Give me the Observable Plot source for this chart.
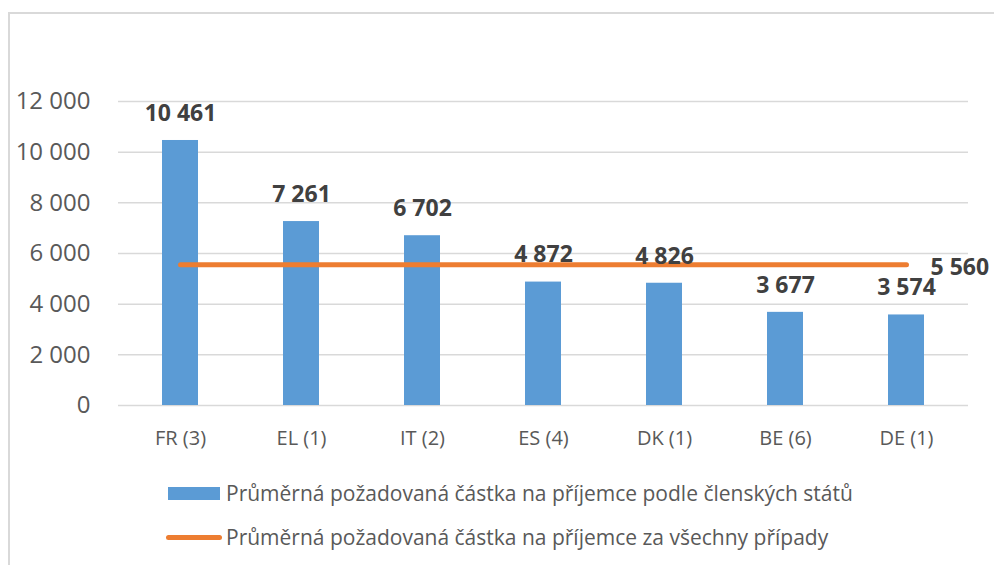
<!DOCTYPE html>
<html>
<head>
<meta charset="utf-8">
<script src="https://cdn.jsdelivr.net/npm/d3@7"></script>
<script src="https://cdn.jsdelivr.net/npm/@observablehq/plot@0.6"></script>
<style>
  html, body { margin: 0; padding: 0; background: #fff; overflow: hidden; }
  body { width: 994px; height: 565px; position: relative; font-family: "Open Sans", sans-serif; }
  #frame { position: absolute; left: 8px; top: 12px; width: 1000px; height: 600px;
           border-left: 2px solid #d9d9d9; border-top: 2px solid #d9d9d9; box-sizing: border-box; }
  #chart { position: absolute; left: 0; top: 0; }
  .leg { position: absolute; display: flex; align-items: center; color: #595959; font-size: 21px; line-height: 21px; white-space: nowrap; }
  .sw-bar { width: 52px; height: 13px; background: #5b9bd5; margin-right: 6px; }
  .sw-line { width: 56px; height: 5px; border-radius: 3px; background: #ed7d31; margin-right: 4px; }
</style>
</head>
<body>
<div id="frame"></div>
<div id="chart"></div>
<div class="leg" style="top:483px; left:168px"><div class="sw-bar"></div><span id="l1"></span></div>
<div class="leg" style="top:527px; left:166px"><div class="sw-line"></div><span id="l2"></span></div>
<script>
const categories = ["FR (3)", "EL (1)", "IT (2)", "ES (4)", "DK (1)", "BE (6)", "DE (1)"];
const values = [10461, 7261, 6702, 4872, 4826, 3677, 3574];
const averageValue = 5560;
const yTicks = [0, 2000, 4000, 6000, 8000, 10000, 12000];
const seriesNames = [
  "Průměrná požadovaná částka na příjemce podle členských států",
  "Průměrná požadovaná částka na příjemce za všechny případy"
];

const fmt = d => d3.format(",")(d).replace(/,/g, " ");
const data = categories.map((c, i) => ({cat: c, value: values[i], avg: averageValue}));

const chart = Plot.plot({
  width: 994,
  height: 470,
  marginLeft: 118,
  marginRight: 26,
  marginTop: 101,
  marginBottom: 65,
  style: {fontFamily: "Open Sans, sans-serif", background: "transparent", overflow: "visible"},
  x: {domain: categories, paddingInner: 0.7, paddingOuter: 0.35, label: null},
  y: {domain: [0, 12000], label: null},
  marks: [
    Plot.ruleY(yTicks, {stroke: "#d9d9d9", strokeWidth: 1.5}),
    Plot.barY(data, {x: "cat", y: "value", fill: "#5b9bd5"}),
    Plot.lineY(data, {x: "cat", y: "avg", stroke: "#ed7d31", strokeWidth: 5, strokeLinecap: "round"}),
    Plot.text(data, {x: "cat", y: "value", text: d => fmt(d.value), dy: -27, fontSize: 23, fontWeight: "bold", fill: "#404040"}),
    Plot.text([data[data.length - 1]], {x: "cat", y: "avg", text: d => fmt(d.avg), dx: 24, dy: 3, textAnchor: "start", fontSize: 23, fontWeight: "bold", fill: "#404040"}),
    Plot.axisY({ticks: yTicks, tickFormat: fmt, tickSize: 0, tickPadding: 28, fontSize: 24, color: "#595959", label: null}),
    Plot.axisX({tickSize: 0, tickPadding: 25, fontSize: 20, color: "#595959", label: null})
  ]
});
document.getElementById("chart").appendChild(chart);
document.getElementById("l1").textContent = seriesNames[0];
document.getElementById("l2").textContent = seriesNames[1];
</script>
</body>
</html>
